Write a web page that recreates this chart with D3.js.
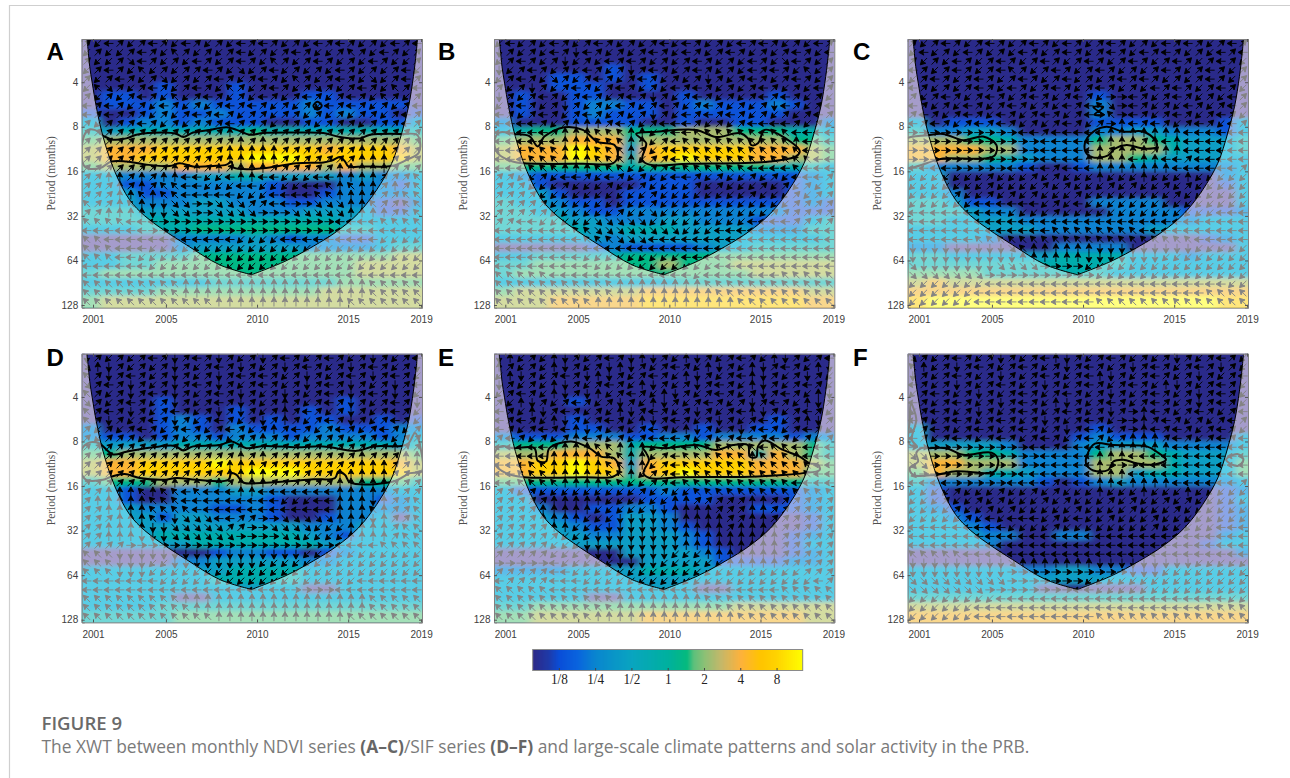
<!DOCTYPE html>
<html><head><meta charset="utf-8">
<style>html,body{margin:0;padding:0;background:#fff}svg{display:block}</style>
<script src="https://cdn.jsdelivr.net/npm/d3@7/dist/d3.min.js"></script>
</head><body><svg id="c" width="1290" height="778"></svg>
<script>
// Axis labels
const yearTicks=[2001,2005,2010,2015,2019];
const periodTicks=[4,8,16,32,64,128];
const legendTicks=[1/8,1/4,1/2,1,2,4,8];
const legendLabels=["1/8","1/4","1/2","1","2","4","8"];
const panelNames=["A","B","C","D","E","F"];
// Colour ramps: log2 power, colour inside the cone, colour outside the cone
const rampPower=[-3.72,-3.3,-3,-2.5,-2,-1,0,.52,.7,1,1.45,2,2.55,3,3.72];
const rampColor=["#2d2a88","#1f3aa8","#0a4ed8","#0a64de","#0a86cf","#0aa5c0","#00b19e","#06ba7e","#5cc07c","#8cc076","#c4b86a","#fdb23c","#ffc400","#ffd400","#ffff00"];
const veilPower=[-3.7,-2.9,-2.1,-1.25,-.4,.4,1.2,2.1,2.9,3.7];
const veilColor=["#a59ccb","#8aa4e8","#5fb8ea","#58cde6","#72d7d6","#a2e0b8","#d2dca2","#fbd78c","#ffe67a","#ffff80"];
// Cone of influence: [year, log2 period]
const coiLeft=[[2000.67,1.04],[2000.73,1.27],[2000.82,1.65],[2000.96,2.02],[2001.18,2.55],[2001.55,3.22],[2002.19,4],[2003.01,4.64],[2003.84,5],[2004.85,5.31],[2006.13,5.65],[2007.96,6.1],[2009.7,6.32]];
const coiRight=[[2009.7,6.32],[2011.53,6.02],[2013.09,5.68],[2014.37,5.35],[2015.56,4.94],[2016.57,4.41],[2017.39,3.82],[2017.94,3.14],[2018.31,2.55],[2018.58,1.87],[2018.73,1.35],[2018.8,1.04]];
// Power levels: one digit per year column (0 navy ... 9 yellow), rows from short to long period
const heatA=["0000000000000000000","0000000000000000000","0000000000000000000","0000000000000000000","0000000000000000000","0000100010000000000","0110100010001100000","0111212111112111110","1001211211112121101","3012212111001100113","4344444445444444444","5666666666666666665","6777888888888788876","6778888889998888886","5666677767777676655","3322223344333323223","3311222222100022213","3331122222100122223","3332223322211222102","4443333332223333113","4444444444444433333","3334445555555544333","0000022223212211333","0000023333332222344","3344445555555555566","3344555555555556666","4555555555555556666","3333333444444455555","4444555555555666666","5666666666666666666"];
const heatB=["0000000000000000000","0000000000000000000","0000000000000000000","0000001000000000000","0001101010000000000","0001110010000000000","0100110000100001000","0100122110121112100","0100121110111111000","2000111100100110002","3455666555666555443","5666777466666666554","6777987378888877765","6777987478988877665","5555555455555554443","3211111111111111123","3310000011100000123","3331000111100000123","4332110111111111121","4433211222222222111","4444332223322211134","4444433444333322244","3333332333333333334","0000012111123344444","3344444555555555555","4455555556555666666","4555555555555566666","3333333333444444444","5666666677777777766","6667777788888888877"];
const heatC=["0000000000000000000","0000000000000000000","0000000000000000000","0000000000000000000","0000000000000000000","0000000000000000000","0000000000100000000","0000000000200000000","0000000000200000000","3011100000111100013","4223320000223322213","6665542222566543334","7777662222666643334","7766543222665433333","4222221001222222223","3300000000000000023","3300000000000000013","3320000000000000003","4431100000222200003","4443220000022221112","4433332222222222333","3333333222222333333","3333200000000000123","2200000022220000003","4433333344443332333","4444444444443333333","5555444444433333333","6766666666666666666","7777777777777777777","8999999999999999988"];
const heatD=["0000000000000000000","0000000000000000000","0000000000000000000","0000000000000000000","0000000000000000000","0000100000000010000","0000100010001010000","0000121010101100101","2000121021111211122","2110122122212222123","4333344444444444434","5566666666666666665","6778888988888888876","6778888889998888886","4555666566666665554","3310022233222222233","3310022222100022123","3332222112100022223","3333133222100122303","3333333333332223333","3333444444443213333","3333334444444333333","0000000122110123333","0000022333332233333","3333333344443333333","3333333444443333333","3333333333330033333","3333300333333333333","3333444444444444444","4444455555555555555"];
const heatE=["0000000000000000000","0000000000000000000","0000000000000000000","0000000000000000000","0000000000000000000","0000100000000000000","0000000000000000000","0000100000000001000","0000110010010011000","2111222112212222122","4555666455556666654","6667776466667747654","7788987378888877765","7788988478988877755","5555555555555555544","3111111112111111123","3300000011110000123","3320011221000011123","3332101332000000013","3333211332100000013","3333322333210000123","3333333333210000133","0000000333321000123","0000000033331111223","2222333344433333333","3333333333333333333","3333333333300333333","3333300333333333333","4455555555555666666","5566666677777777766"];
const heatF=["0000000000000000000","0000000000000000000","0000000000000000000","0000000000000000000","0000000000000000000","0000000000000000000","0000000000000000000","0000000000000000000","3000000000100000000","3000000001211100003","3333320002333322223","6665542222566543334","6776662222666643335","5766443222663443335","4222222101232222223","3100000000000000012","3100000000000000013","3210000000000000012","3321000000000000012","3332100000000000012","3333220022000000023","3333200000000000133","0000000000000000002","0000000000000000000","3333332233221133333","3333333333333333333","3333333000000333333","4444444444444444444","6666666666666666666","7777777777777777777"];
// Phase arrows: one digit per arrow (0 E, 1 NE, 2 N, 3 NW, 4 W, 5 SW, 6 S, 7 SE), rows from short to long period
const arrowsA=["1541514154151541415154141515414","5155141531515145151415513154151","1551741515415141531514151541551","5141535151141575145151541515145","1514151751514151415315141575141","5371514151415315141517151415314","1515141535141515415141514153151","4141515415151414151515414151514","4141115151414151151151515115141","1511141515111411151115111511141","1111111111111211111111111111111","1111111111111121211111111211111","1111111111111222221111111222111","1111111111111222221111111222111","1111111121212122211111122222111","1122121224455422445554422221113","1112121334455544555544323221213","1112232334444455544443322221133","3112326677007771144007772231133","1122226677007777000777772222133","3333444000000000000000044443333","4444440000000000000000044444444","3344444444444455554444444445555","3334445555555555555555555555555","3334455555555555555555555555555","4444445555555555555555555555555","4444444444444444444444444444444","3333333332222222222222222233333","3333333332222222222222222233333","3333333333332222222222223333333"];
const arrowsB=["5451541514151514541515414151541","6151541641515141541514151514154","5141516515414151514151541574151","6514151541516141514151541415351","5141571514151415151615141514151","1516151415141515414151514151541","6151415141514161514151514141515","5141516151541514151415151641514","4151415141515161541414151515141","4444151222141514441515144441515","4444412223332251443333334334444","4444442223332251433333333332444","4443332223332151433333333333444","4443332223332511433333333333344","4443332223335511433333344443444","1155154415415155441515515154441","1115551555155155551515551515151","1111555555555515555555515551511","1111155555555515555555555551111","1111155555515575555555555111111","1144555557777755555555544441111","4444444337777777755544444444444","4444444433377744444444444444444","4444444444444444444444444444444","4444444455555555544444444444444","4444444445555555555544444444444","3333344444444444445444444433333","3333333333322222222333333333333","3333333333322222222233333333333","3333333332222222222222333333333"];
const arrowsC=["1514151415141541514151541415141","5451541515415141514154141515414","1515415141514151415141514151415","4151415143151415141515141514151","5141514151415145151414151514151","4151514154151415141515414151415","1514151415141514150041514151541","4151541514151541437041515415141","1415141541514151403041514151415","4141514141515141510241415141541","0000000000441444442222222444444","0000000000004444422221242444444","0000000000004444421222122444444","0000000000004444222242244144444","4444000004444144422222224444441","5555555155515155525552555255555","5555555155551515551515515155555","5555155151515551555555551555555","5555554444445154555555555555555","4444444445555155555555555555444","4444444444444444444444444444444","4444444444444333333334444444444","4444443333333333333333333344444","6666666667322222266666666655555","6666666666222222666666655555555","7666666677770000555555555555555","7777777000000000055555555555555","5555555444444444444444444444455","5555554444444444444444444443333","5555554444444444433333333333333"];
const arrowsD=["6151514161416151614151415161514","7261515161514161516141516141516","3161415161516141415161514161415","7141615161416151415161416151614","3151614161514161516151416141615","7151415161514161512151416151416","3141615141516161512141516151415","3161514161514151612151416151415","1515141514151415121415141514151","1511151115111511211151115111511","1111111111111121111111111111211","1111111111111121211111111211122","1111111111111222111111111222112","1111111111111222211111122222111","1111111121212122211111122222111","1122232334344422444444422222111","1222223334444444445554422262113","1122223333444444444444422232113","1112223367774411007777722262113","1122226677777110077775552222133","1122266677777700007755552222133","1111000000000000000000044443333","3336666666666666666655555555555","3336665566666666555555555555555","3336665555555555555555555555555","4444444555555555555555555444444","4444444444444444444000044444444","3333333332222222222222222233333","3333333333222222222222222233333","3333333333332222222222223333333"];
const arrowsE=["6251526151416261526151415261514","2151526151626151415261526141526","5261514162615141526151426151615","6151526151415261516141526151415","5141526162514152615141516141526","1526151415161526151415161415261","4152614151526141516151426151415","4141526151415261415161514151261","4151414261515141526151614151415","1415151241515144415151441415151","4444412223322251443333334334444","4444422222332251433333323332444","4443322222332251433333333333344","4433322222332511433333333333344","4433332222335511433333333334444","1151555555555151553333333333333","1111122222555555221111122111111","1111222225555566222211122111111","1111222255566666622221122111111","1111122555666666622221222211111","1111115556666666622222222211111","1111155566666666622222222211111","1111155566666666555222222211111","0000045555566665555552222211111","1111144555555555555555555555111","4111144455555555555555555555541","3333344444444444444444444433333","3333333333322222222333333333333","3333333333322222222233333333333","3333333332222222222222333333333"];
const arrowsF=["7151415161514261514151516151415","3251614151415161415161415141615","6151415161514151426151415161514","4151615141516151415141526151415","5141516151415141516151415161415","4151415161415261514151415161415","5141516151415141516102415141514","4151415141516151415002141515141","5141514151415161415102414151415","4151415141514151415122214151414","0000000000044144442222224444444","7700000000004444422244444444444","7700000000004444420004444444444","7000000000444444422244444444444","4444000004444144422422224444441","5555155515515155525552555255555","5551551515551515551515515155555","5555155151555551555515551555555","5555515454445154551555155555555","4444444445555155555555155555444","4444444444444444444444444444444","4444444444444444444444444444444","3333344444444444444444444444444","6666666667222222266666666655555","6666666660000000000066655555555","7777777770000000555555555555555","7777777000000004455555555555555","5555555544444444444444444444455","5555554444444444444444444443333","5555554444444444433333333333333"];
// Significance contours: [year, log2 period]
const contoursA=[[[2001.64,3.22],[2002.1,3.29],[2002.83,3.26],[2003.38,3.18],[2004.85,3.13],[2005.58,3.16],[2005.95,3.23],[2006.49,3.13],[2007.41,3.07],[2008.33,3.01],[2008.88,3.07],[2009.61,3.18],[2010.34,3.14],[2012.17,3.13],[2013.64,3.14],[2014.55,3.23],[2015.65,3.26],[2016.2,3.18],[2017.94,3.16],[2018.77,3.18],[2018.95,3.37],[2018.86,3.59],[2018.22,3.74],[2017.39,3.88],[2015.84,3.89],[2015.01,3.89],[2014.83,3.78],[2014.55,3.68],[2014.1,3.76],[2013.64,3.8],[2012.17,3.82],[2010.34,3.93],[2009.24,3.95],[2008.69,3.91],[2008.6,3.78],[2008.33,3.85],[2007.59,3.88],[2006.49,3.89],[2005.76,3.82],[2005.21,3.88],[2003.93,3.85],[2002.83,3.78],[2002,3.78],[2001.37,3.93],[2000.54,3.89],[2000.41,3.37],[2000.73,3.07],[2001.09,3.07]],[[2013.09,2.53],[2013.31,2.44],[2013.55,2.53],[2013.31,2.62]]];
const contoursB=[[[2001.49,3.16],[2002.32,3.21],[2002.78,3.44],[2003.14,3.22],[2004.24,3.01],[2005.25,3.07],[2006.07,3.34],[2006.99,3.41],[2007.17,3.67],[2006.9,3.82],[2005.25,3.83],[2002.04,3.82],[2001.4,3.78],[2000.58,3.59],[2000.4,3.33],[2000.67,3.13]],[[2008.18,3.16],[2009.28,3.11],[2011.48,3.07],[2012.57,3.23],[2013.86,3.14],[2014.31,3.26],[2014.5,3.41],[2014.86,3.37],[2015.23,3.07],[2015.96,3.16],[2017.15,3.54],[2016.97,3.66],[2015.51,3.78],[2011.11,3.83],[2008.91,3.85],[2008.51,3.74],[2008.73,3.37],[2008.45,3.26]]];
const contoursC=[[[2000.12,3.31],[2001.49,3.19],[2002.32,3.16],[2003.42,3.3],[2004.52,3.22],[2005.25,3.41],[2005.16,3.64],[2004.61,3.71],[2002.32,3.71],[2001.86,3.76],[2000.12,3.91]],[[2010.1,3.37],[2010.56,3.11],[2011.29,3],[2012.2,3.11],[2013.31,3.11],[2013.95,3.3],[2014.04,3.45],[2013.31,3.49],[2012.39,3.41],[2011.75,3.49],[2011.38,3.64],[2010.56,3.69],[2010.19,3.6]],[[2010.56,2.56],[2011.11,2.56],[2010.62,2.73],[2011.11,2.73]]];
const contoursD=[[[2001.33,3.04],[2002.1,3.29],[2002.83,3.23],[2004.3,3.13],[2005.49,3.1],[2005.95,3.2],[2006.49,3.11],[2007.96,3.08],[2008.6,3],[2009.42,3.15],[2010.34,3.1],[2012.17,3.13],[2013.64,3.11],[2015.47,3.21],[2016.38,3.11],[2017.94,3.1],[2018.31,3.04],[2018.67,2.81],[2018.95,3.11],[2019.04,3.67],[2018.4,3.71],[2017.48,3.9],[2015.1,3.92],[2014.83,3.75],[2014.46,3.67],[2014.28,3.82],[2013.09,3.85],[2010.71,3.92],[2009.24,3.92],[2008.88,3.75],[2008.6,3.71],[2008.42,3.86],[2006.68,3.86],[2005.58,3.82],[2004.85,3.86],[2003.56,3.82],[2002.74,3.73],[2002,3.79],[2001.55,3.86],[2000.63,3.86],[2000.36,3.71],[2000.36,3.19],[2000.82,3.02]]];
const contoursE=[[[2001.4,3.15],[2002.59,3.15],[2002.78,3.43],[2003.23,3.45],[2003.42,3.15],[2004.61,3],[2005.62,3.15],[2006.26,3.34],[2006.99,3.38],[2007.26,3.67],[2006.9,3.79],[2005.25,3.8],[2002.04,3.8],[2001.04,3.71],[2000.4,3.49],[2000.49,3.19],[2000.85,3.1]],[[2008.55,3.13],[2009.83,3.15],[2011.48,3.08],[2012.57,3.19],[2013.49,3.08],[2014.31,3.08],[2014.41,3.34],[2014.77,3.35],[2014.86,3.11],[2015.23,2.98],[2016.24,3.19],[2017.15,3.34],[2017.7,3.49],[2018.16,3.52],[2018.25,3.64],[2017.34,3.71],[2016.24,3.75],[2014.41,3.79],[2010.74,3.8],[2008.91,3.82],[2008.58,3.71],[2008.88,3.41],[2008.73,3.26]]];
const contoursF=[[[2001.49,3.15],[2002.5,3.15],[2003.42,3.3],[2004.97,3.25],[2005.34,3.41],[2005.16,3.67],[2004.7,3.71],[2003.05,3.67],[2001.86,3.75],[2000.67,3.75],[2000.49,3.6],[2000.95,3.45],[2000.85,3.26],[2001.13,3.15]],[[2010.19,3.34],[2010.65,3.05],[2011.66,3.08],[2013.49,3.11],[2014.04,3.23],[2014.55,3.41],[2013.86,3.52],[2012.94,3.49],[2012.21,3.41],[2011.66,3.45],[2011.38,3.64],[2010.56,3.65],[2010.16,3.49]],[[2017.85,3.41],[2018.47,3.28],[2018.8,3.41],[2018.47,3.55]],[[2000.55,2.14],[2000.85,2.5],[2000.6,2.96],[2000.9,3.11],[2000.45,3.05],[2000.5,2.5]]];
const captionTitle="FIGURE 9";

// layout
const W=340.3,H=268.7;
const lefts=[81.7,494,907.7],tops=[39,353.7];
const labelX=[51,463,877],letterX=[46.5,438,853],letterY=[59.5,366];
const heats=[heatA,heatB,heatC,heatD,heatE,heatF];
const arrowSets=[arrowsA,arrowsB,arrowsC,arrowsD,arrowsE,arrowsF];
const contourSets=[contoursA,contoursB,contoursC,contoursD,contoursE,contoursF];

const svg=d3.select("#c");
const defs=svg.append("defs");
const soft=defs.append("filter").attr("id","soft").attr("x","-5%").attr("y","-5%").attr("width","110%").attr("height","110%");
soft.append("feGaussianBlur").attr("stdDeviation","4 2");
const fine=defs.append("filter").attr("id","fine").attr("x","-2%").attr("y","-2%").attr("width","104%").attr("height","104%");
fine.append("feGaussianBlur").attr("stdDeviation","0.35");

// page frame
svg.append("path").attr("d","M9.5,778V5.5H1290").attr("fill","none").attr("stroke","#cfcfcf").attr("stroke-width",1.2);

const color=d3.scaleLinear().domain(rampPower).range(rampColor).clamp(true);
const colorOut=d3.scaleLinear().domain(veilPower).range(veilColor).clamp(true);
const levelToPower=d3.scaleLinear([0,9],[-3.7,3.7]);
const arrowAngle=d3.scaleLinear([0,8],[0,-360]);
const sans="'Liberation Sans',Arial,sans-serif",serif="'Liberation Serif','Times New Roman',serif";
const arrowGlyph="M-4.6,0H1M5,0L0,-2.8L1,0L0,2.8Z";

panelNames.forEach((name,p)=>{
  const left=lefts[p%3],top=tops[p<3?0:1];
  const x=d3.scaleLinear([2000.38,2019.05],[left,left+W]);
  const y=d3.scaleLog().base(2).domain([2**1.03,2**7.06]).range([top,top+H]);
  const g=svg.append("g");
  const branch=d3.line().x(d=>x(d[0])).y(d=>y(2**d[1])).curve(d3.curveCatmullRom.alpha(.5));
  const coi=branch(coiLeft)+"L"+branch(coiRight).slice(1);
  defs.append("clipPath").attr("id","plot"+name).append("rect").attr("x",left).attr("y",top).attr("width",W).attr("height",H);
  defs.append("clipPath").attr("id","cone"+name).append("path").attr("d",`M${left},${top}H${left+W}V${top+H}H${left}Z`+coi+"Z").attr("clip-rule","evenodd");
  defs.append("clipPath").attr("id","inner"+name).append("path").attr("d",coi+"L"+x(coiRight[coiRight.length-1][0])+","+(top-3)+"L"+x(coiLeft[0][0])+","+(top-3)+"Z");
  const plot=g.append("g").attr("clip-path",`url(#plot${name})`);
  // heat cells, drawn with a colour ramp for each side of the cone
  const cells=heats[p].flatMap((row,i)=>[...row].map((d,j)=>({i,j,v:+d})));
  const nRows=heats[p].length,nCols=heats[p][0].length;
  const heatLayer=(sel,scale)=>sel.append("g").attr("filter","url(#soft)").selectAll("rect").data(cells).join("rect")
    .attr("x",d=>x(2000.4+d.j)-(d.j==0?14:0))
    .attr("width",d=>x(2001.4)-x(2000.4)+.6+((d.j==0||d.j==nCols-1)?14:0))
    .attr("y",d=>y(2**(1+.2*d.i))-(d.i==0?14:0))
    .attr("height",d=>y(2**(1.2))-y(2**1)+.6+((d.i==0||d.i==nRows-1)?14:0))
    .attr("shape-rendering","crispEdges")
    .attr("fill",d=>scale(levelToPower(d.v)));
  heatLayer(plot,color);
  heatLayer(plot.append("g").attr("clip-path",`url(#cone${name})`),colorOut);
  // arrows and contours, black inside the cone and grey outside
  const arrows=arrowSets[p].flatMap((row,i)=>[...row].map((d,j)=>({i,j,v:+d})));
  const art=defs.append("g").attr("id","art"+name);
  art.append("g").attr("filter","url(#fine)").selectAll("path").data(arrows).join("path")
    .attr("d",arrowGlyph)
    .attr("transform",d=>`translate(${x(2000.66+.604*d.j)},${y(2**(1.13+.2*d.i))}) rotate(${arrowAngle(d.v)})`)
    .attr("fill","currentColor").attr("stroke","currentColor").attr("stroke-width",.9);
  const contour=d3.line().x(d=>x(d[0])).y(d=>y(2**d[1])).curve(d3.curveCatmullRomClosed.alpha(.5));
  art.append("g").attr("filter","url(#fine)").selectAll("path").data(contourSets[p]).join("path")
    .attr("d",contour).attr("fill","none").attr("stroke","currentColor").attr("stroke-width",2);
  plot.append("g").attr("clip-path",`url(#inner${name})`).append("use").attr("href","#art"+name).attr("color","#000");
  plot.append("g").attr("clip-path",`url(#cone${name})`).append("use").attr("href","#art"+name).attr("color","#838383");
  plot.append("path").attr("d",coi).attr("fill","none").attr("stroke","#000").attr("stroke-width",1);
  // axes
  const style=a=>{a.selectAll(".domain").attr("stroke","#808080");a.selectAll("line").attr("stroke","#555");
    a.selectAll("text").attr("font-family",sans).attr("font-size",10).attr("fill","#404040");};
  g.append("g").attr("transform",`translate(0,${top+H})`).call(d3.axisBottom(x).tickValues(yearTicks).tickFormat(d3.format("d")).tickSize(-3).tickPadding(8.5)).call(style);
  g.append("g").attr("transform",`translate(${left},0)`).call(d3.axisLeft(y).tickValues(periodTicks).tickFormat(d3.format("d")).tickSize(-3).tickPadding(3.5)).call(style);
  g.append("g").attr("transform",`translate(${left+W},0)`).call(d3.axisRight(y).tickValues(periodTicks).tickFormat("").tickSize(-3)).call(style);
  g.append("g").attr("transform",`translate(0,${top})`).call(d3.axisTop(x).tickValues(yearTicks).tickFormat("").tickSize(-3)).call(style);
  g.append("text").attr("transform",`translate(${labelX[p%3]},${top+H/2}) rotate(-90)`).attr("text-anchor","middle").attr("dy",".35em")
    .attr("font-family",serif).attr("font-size",11.5).attr("fill","#505050").text("Period (months)");
  svg.append("text").attr("x",letterX[p%3]).attr("y",letterY[p<3?0:1]).attr("font-family",sans).attr("font-weight",700).attr("font-size",24).attr("fill","#000").text(name);
});

// colour bar
const legX=d3.scaleLog().base(2).domain([2**-3.72,2**3.72]).range([532.7,802.7]);
const legY=649.5,legH=21;
const legG=svg.append("g");
legG.selectAll("rect").data(d3.range(532.7,802.7,1)).join("rect")
  .attr("x",d=>d).attr("width",1.3).attr("y",legY).attr("height",legH)
  .attr("fill",d=>color(Math.log2(legX.invert(d))));
legG.append("rect").attr("x",532.7).attr("y",legY).attr("width",270).attr("height",legH).attr("fill","none").attr("stroke","#8a8a8a").attr("stroke-width",1);
const legAxis=svg.append("g").attr("transform",`translate(0,${legY+legH})`)
  .call(d3.axisBottom(legX).tickValues(legendTicks).tickFormat((d,i)=>legendLabels[i]).tickSize(-2.5).tickPadding(3));
legAxis.select(".domain").remove();
legAxis.selectAll("line").attr("stroke","#444");
legAxis.selectAll("text").attr("font-family",serif).attr("font-size",15).attr("fill","#222").attr("transform","scale(.88,1)");

// caption
svg.append("text").attr("x",41.5).attr("y",730).attr("font-family","'Open Sans',sans-serif").attr("font-weight",600).attr("font-size",18.6).attr("fill","#6a6a6a").text(captionTitle);
const cap=svg.append("text").attr("x",41.5).attr("y",753).attr("font-family","'Open Sans',sans-serif").attr("font-size",17.4).attr("fill","#7a7a7a");
[["The XWT between monthly NDVI series ",400],["(A–C)",700],["/SIF series ",400],["(D–F)",700],[" and large-scale climate patterns and solar activity in the PRB.",400]]
 .forEach(([t,w])=>cap.append("tspan").attr("font-weight",w).attr("fill",w==700?"#666":"#7a7a7a").text(t));
</script></body></html>
